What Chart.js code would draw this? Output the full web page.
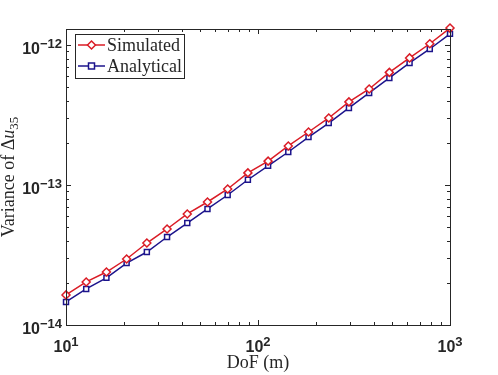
<!DOCTYPE html>
<html>
<head>
<meta charset="utf-8">
<script src="https://cdn.jsdelivr.net/npm/chart.js@4.4.1/dist/chart.umd.min.js"></script>
<style>
  html, body { margin: 0; padding: 0; background: #fff; }
  #wrap { width: 498px; height: 375px; }
</style>
</head>
<body>
<div id="wrap"><canvas id="varChart" width="498" height="375"></canvas></div>
<script>
// DoF values (m), log-spaced 10..1000
const dof = [10, 12.74, 16.24, 20.69, 26.37, 33.60, 42.81, 54.56, 69.52, 88.59,
  112.9, 143.8, 183.3, 233.6, 297.6, 379.3, 483.3, 615.8, 784.8, 1000];
const simulated = [1.64e-14, 2.03e-14, 2.39e-14, 2.96e-14, 3.85e-14, 4.85e-14, 6.21e-14, 7.56e-14, 9.36e-14, 1.22e-13,
  1.48e-13, 1.90e-13, 2.39e-13, 3.01e-13, 3.92e-13, 4.85e-13, 6.37e-13, 8.08e-13, 1.02e-12, 1.32e-12];
const analytical = [1.46e-14, 1.81e-14, 2.17e-14, 2.77e-14, 3.32e-14, 4.25e-14, 5.35e-14, 6.74e-14, 8.48e-14, 1.09e-13,
  1.37e-13, 1.72e-13, 2.20e-13, 2.77e-13, 3.55e-13, 4.54e-13, 5.81e-13, 7.44e-13, 9.36e-13, 1.20e-12];
const xMajor = [1, 2, 3];      // exponents of 10
const yMajor = [-14, -13, -12];
const seriesNames = ['Simulated', 'Analytical'];

const RED = 'rgb(218,28,38)';
const BLUE = 'rgb(28,20,140)';
const AXIS = '#262626';
const SERIF = '"Liberation Serif", "Times New Roman", serif';
const SANS = '"Liberation Sans", Arial, sans-serif';

// frame, inside ticks, tick labels, titles and legend (MATLAB look)
const matlabAxes = {
  id: 'matlabAxes',
  afterDraw(chart) {
    const ctx = chart.ctx;
    const a = chart.chartArea;
    const xs = chart.scales.x, ys = chart.scales.y;
    ctx.save();
    ctx.strokeStyle = AXIS;
    ctx.lineWidth = 1;

    // ticks
    function tick(x1, y1, x2, y2) {
      ctx.beginPath(); ctx.moveTo(x1, y1); ctx.lineTo(x2, y2); ctx.stroke();
    }
    for (let e = 1; e <= 3; e++) {
      for (let m = 1; m <= 9; m++) {
        const v = m * Math.pow(10, e);
        if (v > 1000 + 1e-9) continue;
        const px = Math.round(xs.getPixelForValue(v)) + 0.5;
        const len = m === 1 ? 5 : 3;
        tick(px, a.bottom, px, a.bottom - len);
        tick(px, a.top, px, a.top + len);
      }
    }
    for (let e = -14; e <= -12; e++) {
      for (let m = 1; m <= 9; m++) {
        const v = m * Math.pow(10, e);
        if (v > ys.max * 1.0001) continue;
        const py = Math.round(ys.getPixelForValue(v)) + 0.5;
        const len = m === 1 ? 5 : 3;
        tick(a.left, py, a.left + len, py);
        tick(a.right, py, a.right - len, py);
      }
    }

    // frame
    ctx.strokeRect(Math.round(a.left) + 0.5, Math.round(a.top) + 0.5,
      Math.round(a.right - a.left), Math.round(a.bottom - a.top));

    // tick labels
    ctx.fillStyle = AXIS;
    ctx.textBaseline = 'alphabetic';
    xMajor.forEach(e => {
      const px = xs.getPixelForValue(Math.pow(10, e));
      ctx.font = 'bold 16px ' + SANS;
      const w1 = ctx.measureText('10').width;
      ctx.font = 'bold 13px ' + SANS;
      const sup = String(e);
      const w2 = ctx.measureText(sup).width;
      const x0 = px - (w1 + w2) / 2;
      ctx.textAlign = 'left';
      ctx.font = 'bold 16px ' + SANS;
      ctx.fillText('10', x0, a.bottom + 27);
      ctx.font = 'bold 13px ' + SANS;
      ctx.fillText(sup, x0 + w1, a.bottom + 21);
    });
    yMajor.forEach(e => {
      const py = ys.getPixelForValue(Math.pow(10, e));
      const sup = '\u2212' + Math.abs(e);
      ctx.font = 'bold 13px ' + SANS;
      const w2 = ctx.measureText(sup).width;
      const xr = a.left - 4;
      ctx.textAlign = 'right';
      ctx.fillText(sup, xr, py + 3);
      ctx.font = 'bold 16px ' + SANS;
      ctx.fillText('10', xr - w2, py + 9);
    });

    // x title
    ctx.font = '18px ' + SERIF;
    ctx.textAlign = 'center';
    ctx.fillText('DoF (m)', (a.left + a.right) / 2, 368);

    // y title, rotated, with italic u and subscript 35
    ctx.save();
    ctx.translate(14, (a.top + a.bottom) / 2);
    ctx.rotate(-Math.PI / 2);
    const parts = [
      { t: 'Variance of \u0394', f: '18px ' + SERIF, dy: 0 },
      { t: 'u', f: 'italic 18px ' + SERIF, dy: 0 },
      { t: '35', f: '13px ' + SERIF, dy: 4 }
    ];
    let total = 0;
    parts.forEach(p => { ctx.font = p.f; p.w = ctx.measureText(p.t).width; total += p.w; });
    let cx = -total / 2;
    ctx.textAlign = 'left';
    parts.forEach(p => { ctx.font = p.f; ctx.fillText(p.t, cx, p.dy); cx += p.w; });
    ctx.restore();

    // legend
    const lx = 75, ly = 34, lw = 109, lh = 44;
    ctx.fillStyle = '#fff';
    ctx.fillRect(lx, ly, lw, lh);
    ctx.strokeStyle = AXIS;
    ctx.strokeRect(lx + 0.5, ly + 0.5, lw, lh);
    chart.data.datasets.forEach((ds, i) => {
      const ry = 45 + i * 21;
      ctx.strokeStyle = ds.borderColor;
      ctx.lineWidth = 1.5;
      ctx.beginPath(); ctx.moveTo(78, ry); ctx.lineTo(105, ry); ctx.stroke();
      ctx.fillStyle = '#fff';
      ctx.beginPath();
      if (ds.pointStyle === 'rectRot') {
        ctx.moveTo(91.5, ry - 4); ctx.lineTo(95.5, ry); ctx.lineTo(91.5, ry + 4); ctx.lineTo(87.5, ry);
        ctx.closePath();
      } else {
        ctx.rect(88.5, ry - 3, 6, 6);
      }
      ctx.fill(); ctx.stroke();
      ctx.fillStyle = AXIS;
      ctx.font = '18px ' + SERIF;
      ctx.textAlign = 'left';
      ctx.fillText(ds.label, 107, ry + 6);
    });
    ctx.restore();
  }
};

new Chart(document.getElementById('varChart').getContext('2d'), {
  type: 'line',
  data: {
    datasets: [{
      label: seriesNames[0],
      data: dof.map((x, i) => ({ x: x, y: simulated[i] })),
      borderColor: RED,
      backgroundColor: '#fff',
      borderWidth: 1.5,
      pointStyle: 'rectRot',
      pointRadius: 4,
      pointBorderWidth: 1.5,
      pointBorderColor: RED,
      pointBackgroundColor: '#fff',
      tension: 0,
      clip: false
    }, {
      label: seriesNames[1],
      data: dof.map((x, i) => ({ x: x, y: analytical[i] })),
      borderColor: BLUE,
      backgroundColor: '#fff',
      borderWidth: 1.5,
      pointStyle: 'rect',
      pointRadius: 3.5,
      pointBorderWidth: 1.5,
      pointBorderColor: BLUE,
      pointBackgroundColor: '#fff',
      tension: 0,
      clip: false
    }]
  },
  options: {
    responsive: false,
    animation: false,
    events: [],
    layout: { padding: { top: 29, right: 48, left: 0, bottom: 0 } },
    plugins: {
      legend: { display: false },
      tooltip: { enabled: false }
    },
    scales: {
      x: {
        type: 'logarithmic',
        min: 10,
        max: 1000,
        ticks: { display: false },
        grid: { display: false },
        border: { display: false },
        afterFit: s => { s.height = 50; }
      },
      y: {
        type: 'logarithmic',
        min: 1e-14,
        max: 1.3e-12,
        ticks: { display: false },
        grid: { display: false },
        border: { display: false },
        afterFit: s => { s.width = 66; }
      }
    }
  },
  plugins: [matlabAxes]
});
</script>
</body>
</html>
